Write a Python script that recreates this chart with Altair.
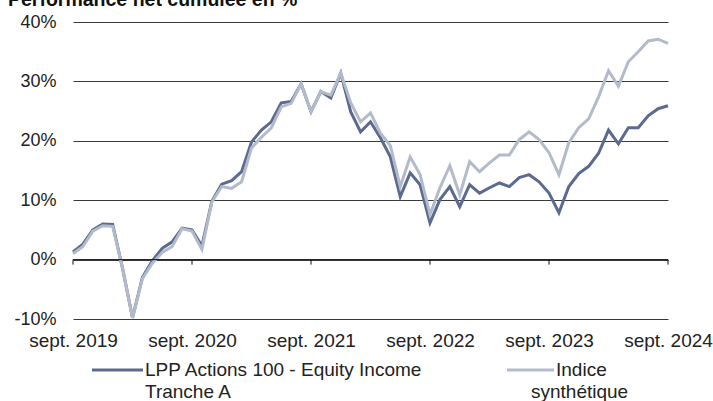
import altair as alt
import pandas as pd

# ---- data ----
months = list(pd.period_range("2019-09", "2024-09", freq="M").astype(str))
fund_name = "LPP Actions 100 - Equity Income Tranche A"
index_name = "Indice synthétique"
fund = [1.3, 2.6, 5.0, 6.0, 5.9, -1.5, -9.8, -3.0, -0.2, 1.9, 3.0, 5.3, 5.0, 2.3, 9.8,
        12.7, 13.3, 14.8, 19.8, 21.8, 23.2, 26.4, 26.6, 29.6, 24.9, 28.3, 27.2, 31.4,
        24.9, 21.5, 23.2, 20.5, 17.3, 10.6, 14.6, 12.6, 6.2, 10.1, 12.3, 8.9, 12.6,
        11.2, 12.1, 12.9, 12.3, 13.8, 14.3, 13.1, 11.2,
        7.9, 12.3, 14.5, 15.7, 17.9, 21.8, 19.5, 22.2, 22.2, 24.2, 25.4, 25.9]
index = [1.0, 2.2, 4.8, 5.7, 5.6, -1.5, -9.8, -3.2, -0.6, 1.2, 2.2, 5.2, 4.8, 1.7, 9.7,
         12.3, 12.0, 13.1, 18.8, 20.6, 22.2, 25.7, 26.3, 29.6, 24.9, 28.3, 27.7, 31.4,
         26.4, 23.2, 24.7, 21.3, 19.2, 12.3, 17.3, 14.3, 7.6, 12.1, 15.8, 10.9, 16.5,
         14.8, 16.3, 17.6, 17.6, 20.2, 21.5, 20.2, 18.0,
         14.3, 19.7, 22.2, 23.7, 27.4, 31.8, 29.2, 33.3, 35.0, 36.8, 37.1, 36.4]
tick_positions = [0, 12, 24, 36, 48, 60]
tick_labels = ["sept. 2019", "sept. 2020", "sept. 2021", "sept. 2022", "sept. 2023", "sept. 2024"]
y_ticks = [-10, 0, 10, 20, 30, 40]

FONT = "Liberation Sans"
DARK = "#5b6a8e"
LIGHT = "#b3bbcb"

df_fund = pd.DataFrame({"i": range(len(months)), "month": months, "v": fund})
df_index = pd.DataFrame({"i": range(len(months)), "month": months, "v": index})
df_ticks = pd.DataFrame({"i": tick_positions})
one = pd.DataFrame({"k": [0]})

label_expr = "[" + ",".join(f"'{t}'" for t in tick_labels) + "][datum.value / 12]"

x_enc = alt.X("i:Q",
              scale=alt.Scale(domain=[0, 60], nice=False, zero=False),
              axis=alt.Axis(values=tick_positions, labelExpr=label_expr, title=None,
                            domain=False, ticks=False, grid=False, labelPadding=12,
                            labelFontSize=19, labelFont=FONT, labelColor="#222222",
                            labelFlush=False, labelOverlap=False))
y_enc = alt.Y("v:Q",
              scale=alt.Scale(domain=[-10, 40], nice=False),
              axis=alt.Axis(values=y_ticks, labelExpr="datum.value + '%'", title=None,
                            domain=False, ticks=False, grid=True, gridColor="#3a3a3a",
                            gridWidth=1, labelPadding=17, labelFontSize=18, labelFont=FONT,
                            labelColor="#222222"))

fund_line = alt.Chart(df_fund).mark_line(color=DARK, strokeWidth=3).encode(x=x_enc, y=y_enc)
index_line = alt.Chart(df_index).mark_line(color=LIGHT, strokeWidth=3).encode(x="i:Q", y="v:Q")

zero_ticks = alt.Chart(df_ticks).mark_rule(color="#111111", strokeWidth=1).encode(
    x="i:Q", y=alt.datum(0), y2=alt.datum(-0.85))
zero_line = alt.Chart(one).mark_rule(color="#111111", strokeWidth=1).encode(
    y=alt.datum(0), x=alt.value(0), x2=alt.value(595))

# ---- title and legend (page coords shifted by plot origin 73,22) ----
title = alt.Chart(one).mark_text(align="left", baseline="alphabetic", fontSize=19.5,
                                 fontWeight="bold", font=FONT, color="#111111").encode(
    x=alt.value(8 - 73), y=alt.value(6 - 22), text=alt.value("Performance net cumulée en %"))

def txt(s, x, y):
    return alt.Chart(one).mark_text(align="left", baseline="middle", fontSize=19,
                                    font=FONT, color="#222222").encode(
        x=alt.value(x - 73), y=alt.value(y - 22), text=alt.value(s))

leg_fund = alt.Chart(one).mark_rule(color=DARK, strokeWidth=3).encode(
    x=alt.value(92 - 73), x2=alt.value(143 - 73), y=alt.value(370 - 22))
leg_index = alt.Chart(one).mark_rule(color=LIGHT, strokeWidth=3).encode(
    x=alt.value(507 - 73), x2=alt.value(554 - 73), y=alt.value(370 - 22))

chart = alt.layer(
    fund_line, index_line, zero_line, zero_ticks, title,
    leg_fund, txt("LPP Actions 100 - Equity Income", 145, 370), txt("Tranche A", 145, 392),
    leg_index, txt("Indice", 556, 370), txt("synthétique", 531, 392),
).properties(
    width=595, height=297,
    autosize=alt.AutoSizeParams(type="none"),
    padding={"left": 73, "top": 22, "right": 45, "bottom": 82},
    background="white",
).configure_view(stroke=None)

chart.save("out.html", embed_options={"renderer": "svg", "actions": False})
